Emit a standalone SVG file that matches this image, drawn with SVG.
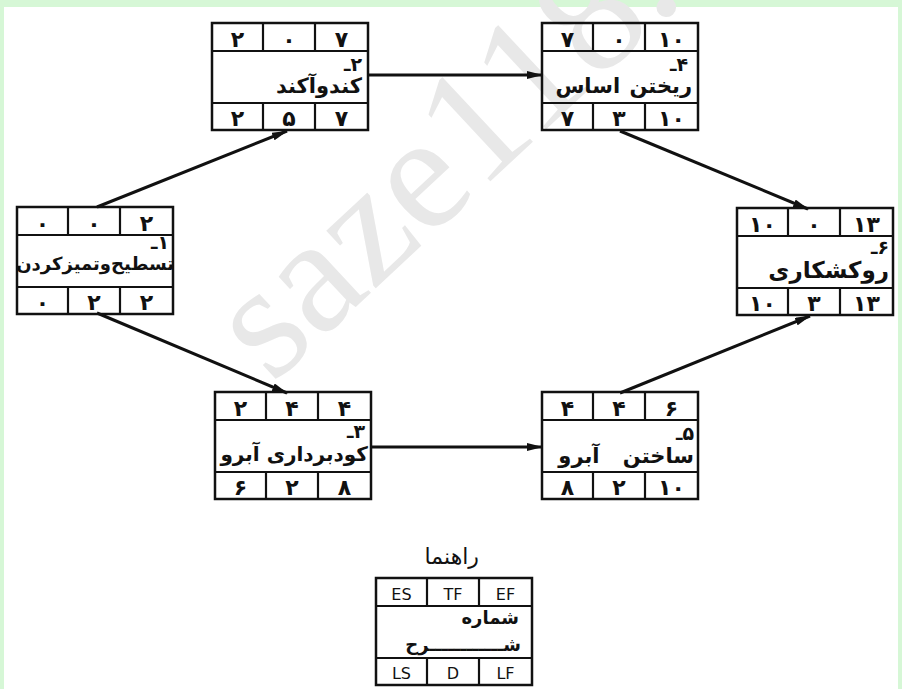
<svg xmlns="http://www.w3.org/2000/svg" width="902" height="689" viewBox="0 0 902 689">
<defs>
<style>
.bx{fill:none;stroke:#111;stroke-width:2.5}
.ln{stroke:#111;stroke-width:2.2}
.d{font-family:"DejaVu Sans",sans-serif;font-weight:bold;font-size:22px;fill:#111;text-anchor:middle}
.t{font-family:"DejaVu Sans",sans-serif;font-weight:bold;font-size:21px;fill:#111;direction:rtl;text-anchor:start}
.n{font-family:"DejaVu Sans",sans-serif;font-weight:bold;font-size:19px;fill:#111;direction:rtl;text-anchor:start}
.e{font-family:"DejaVu Sans",sans-serif;font-size:16px;fill:#111;text-anchor:middle}
.c{stroke:#111;stroke-width:3;fill:none;marker-end:url(#ah)}
.wm{font-family:"Liberation Serif",serif;font-size:165px;fill:#e8e8e8}
</style>
<marker id="ah" viewBox="0 0 16 8" refX="15" refY="4" markerWidth="16" markerHeight="8" markerUnits="userSpaceOnUse" orient="auto">
<path d="M0,0 L16,4 L0,8 z" fill="#111"/>
</marker>
<g id="cell">
<rect class="bx" x="0" y="0" width="156" height="107"/>
<line class="ln" x1="0" y1="28" x2="156" y2="28"/>
<line class="ln" x1="0" y1="80" x2="156" y2="80"/>
<line class="ln" x1="51" y1="0" x2="51" y2="28"/>
<line class="ln" x1="103" y1="0" x2="103" y2="28"/>
<line class="ln" x1="51" y1="80" x2="51" y2="107"/>
<line class="ln" x1="103" y1="80" x2="103" y2="107"/>
</g>
</defs>
<rect x="0" y="0" width="902" height="689" fill="#d6f7d6"/>
<rect x="4" y="7" width="894" height="682" fill="#ffffff"/>
<text class="wm" x="272" y="385" transform="rotate(-43 272 385)">saze118.com</text>

<g id="connectors">
<line class="c" x1="97" y1="207" x2="287" y2="131"/>
<line class="c" x1="97" y1="313" x2="287" y2="393"/>
<line class="c" x1="368" y1="75" x2="542" y2="75"/>
<line class="c" x1="372" y1="447" x2="542" y2="447"/>
<line class="c" x1="620" y1="131" x2="808" y2="209"/>
<line class="c" x1="620" y1="393" x2="810" y2="316"/>
</g>

<g id="node1" transform="translate(17,207)">
<use href="#cell"/>
<text class="d" x="25.5" y="24">۰</text><text class="d" x="77" y="24">۰</text><text class="d" x="129.5" y="24">۲</text>
<text class="n" x="152" y="42">۱ـ</text>
<text class="t" x="157" y="63" style="font-size:18px">تسطیح‌وتمیزکردن</text>
<text class="d" x="25.5" y="103">۰</text><text class="d" x="77" y="103">۲</text><text class="d" x="129.5" y="103">۲</text>
</g>

<g id="node2" transform="translate(212,23)">
<use href="#cell"/>
<text class="d" x="25.5" y="24">۲</text><text class="d" x="77" y="24">۰</text><text class="d" x="129.5" y="24">۷</text>
<text class="n" x="150" y="48">۲ـ</text>
<text class="t" x="150" y="70">کندوآکند</text>
<text class="d" x="25.5" y="103">۲</text><text class="d" x="77" y="103">۵</text><text class="d" x="129.5" y="103">۷</text>
</g>

<g id="node3" transform="translate(215,392)">
<use href="#cell"/>
<text class="d" x="25.5" y="24">۲</text><text class="d" x="77" y="24">۴</text><text class="d" x="129.5" y="24">۴</text>
<text class="n" x="150" y="46">۳ـ</text>
<text class="t" x="153" y="69" style="font-size:20px">کودبرداری آبرو</text>
<text class="d" x="25.5" y="103">۶</text><text class="d" x="77" y="103">۲</text><text class="d" x="129.5" y="103">۸</text>
</g>

<g id="node4" transform="translate(542,23)">
<use href="#cell"/>
<text class="d" x="25.5" y="24">۷</text><text class="d" x="77" y="24">۰</text><text class="d" x="129.5" y="24">۱۰</text>
<text class="n" x="146" y="48">۴ـ</text>
<text class="t" x="150" y="70" style="word-spacing:2px">ریختن اساس</text>
<text class="d" x="25.5" y="103">۷</text><text class="d" x="77" y="103">۳</text><text class="d" x="129.5" y="103">۱۰</text>
</g>

<g id="node5" transform="translate(542,392)">
<use href="#cell"/>
<text class="d" x="25.5" y="24">۴</text><text class="d" x="77" y="24">۴</text><text class="d" x="129.5" y="24">۶</text>
<text class="n" x="152" y="48">۵ـ</text>
<text class="t" x="152" y="71" style="word-spacing:16px">ساختن آبرو</text>
<text class="d" x="25.5" y="103">۸</text><text class="d" x="77" y="103">۲</text><text class="d" x="129.5" y="103">۱۰</text>
</g>

<g id="node6" transform="translate(737,208)">
<use href="#cell"/>
<text class="d" x="25.5" y="24">۱۰</text><text class="d" x="77" y="24">۰</text><text class="d" x="129.5" y="24">۱۳</text>
<text class="n" x="152" y="46">۶ـ</text>
<text class="t" x="152" y="70" style="font-size:23px">روکشکاری</text>
<text class="d" x="25.5" y="103">۱۰</text><text class="d" x="77" y="103">۳</text><text class="d" x="129.5" y="103">۱۳</text>
</g>

<g id="legend">
<text class="t" x="479" y="564" style="font-weight:normal;font-size:22px">راهنما</text>
<g transform="translate(376,578)">
<use href="#cell"/>
<text class="e" x="25.5" y="22">ES</text><text class="e" x="77" y="22">TF</text><text class="e" x="129.5" y="22">EF</text>
<text class="t" x="143" y="46" style="font-size:18px">شماره</text>
<text class="t" x="145" y="73" style="font-size:18px">شــــــــــــرح</text>
<text class="e" x="25.5" y="101">LS</text><text class="e" x="77" y="101">D</text><text class="e" x="129.5" y="101">LF</text>
</g>
</g>
</svg>
